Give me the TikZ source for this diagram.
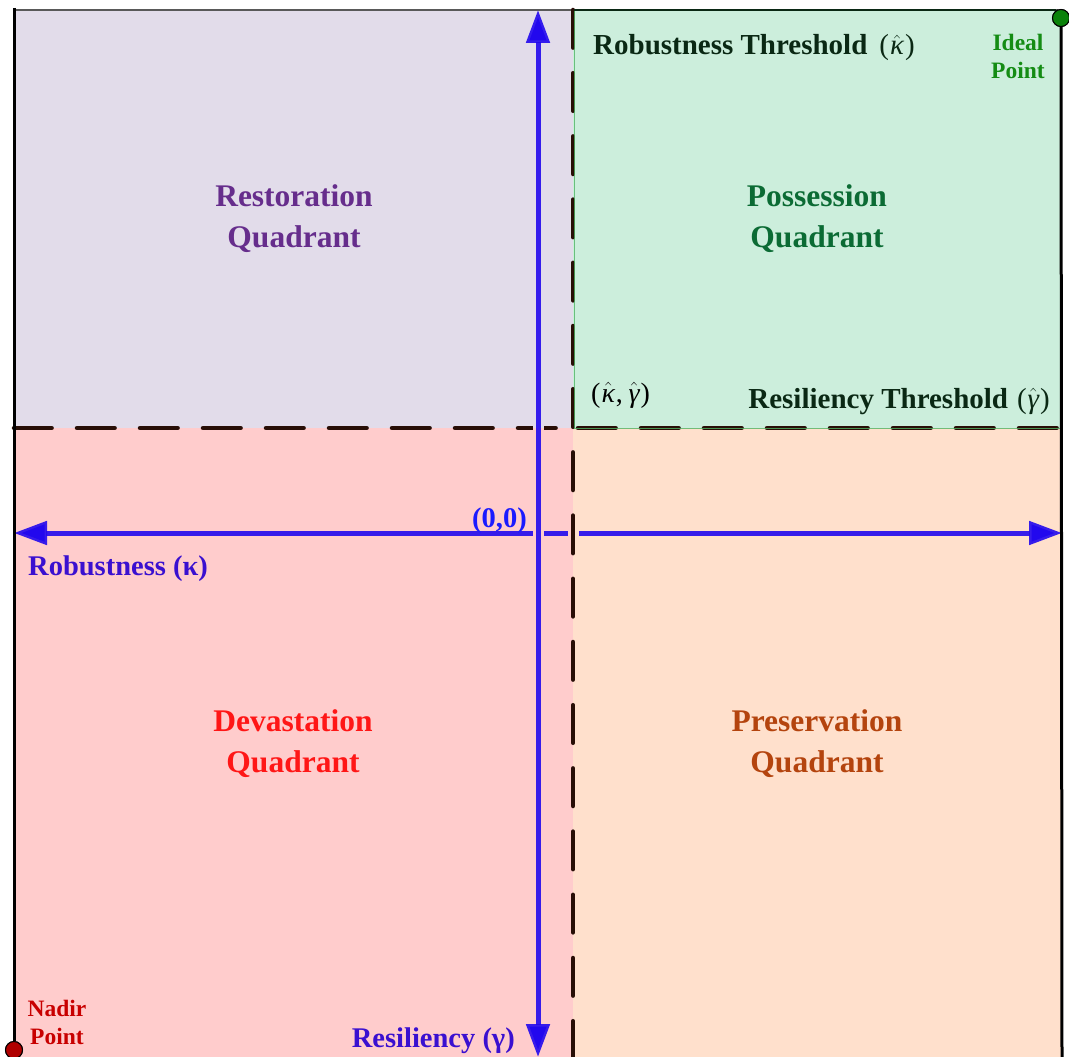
\documentclass[tikz,border=0pt]{standalone}
\usepackage{fontspec}
\setmainfont{Liberation Serif}
\usetikzlibrary{arrows.meta}

% quadrant fills
\definecolor{restfill}{RGB}{226,220,234}
\definecolor{possfill}{RGB}{204,238,220}
\definecolor{devfill}{RGB}{255,204,204}
\definecolor{presfill}{RGB}{255,224,204}
% quadrant titles
\definecolor{restcol}{RGB}{102,45,140}
\definecolor{posscol}{RGB}{11,107,52}
\definecolor{devcol}{RGB}{255,22,22}
\definecolor{prescol}{RGB}{180,68,14}
% lines and labels
\definecolor{threshcol}{RGB}{10,40,20}
\definecolor{dividercol}{RGB}{40,14,6}
\definecolor{axiscol}{RGB}{34,8,238}
\definecolor{axistext}{RGB}{58,16,208}
\definecolor{origincol}{RGB}{26,26,255}
\definecolor{idealcol}{RGB}{20,140,20}
\definecolor{idealdot}{RGB}{10,130,10}
\definecolor{nadircol}{RGB}{200,0,0}
\definecolor{nadirdot}{RGB}{176,0,0}
\definecolor{possedge}{RGB}{80,180,100}

\tikzset{
  quadlabel/.style={font=\fontsize{31.5}{41}\selectfont\bfseries, align=center, inner sep=0pt},
  thresh/.style={font=\fontsize{29}{34}\selectfont\bfseries, text=threshcol, inner sep=0pt},
  axlabel/.style={font=\fontsize{28.5}{32}\selectfont\bfseries, text=axistext, inner sep=0pt},
  ptlabel/.style={font=\fontsize{23.5}{28}\selectfont\bfseries, align=center, inner sep=0pt},
  divider/.style={line width=4.5pt, line cap=round, dash pattern=on 37.6pt off 25.4pt, draw=dividercol},
  axisline/.style={line width=5pt, draw=axiscol, draw opacity=0.9,
    {Triangle[length=33pt,width=23pt]}-{Triangle[length=33pt,width=23pt]}},
  border/.style={line width=3pt, draw=black},
  halo/.style={line width=11pt},
  endpoint/.style={circle, minimum size=17pt, inner sep=0pt, draw=black, line width=1pt},
}

% a hatted italic Greek letter in the text font
\newcommand{\hatsym}[1]{$\hat{\mbox{\itshape\kern1pt #1\kern1pt}}$}

\begin{document}
\begin{tikzpicture}[x=1pt,y=-1pt]
\useasboundingbox (0,0) rectangle (1069,1057);

% quadrant areas
\fill[restfill] (14,10) rectangle (573,428);
\fill[possfill] (573,10) rectangle (1062,428);
\fill[devfill]  (14,428) rectangle (573,1057);
\fill[presfill] (573,428) rectangle (1062,1057);

% frame
\draw[line width=2pt, draw=black!65] (14,10) -- (1058,10);
\coordinate (lt) at (14,8);
\coordinate (rb) at (1062,1057);

% threshold lines
\coordinate (hl) at (14,428);
\coordinate (hm) at (571,428);
\coordinate (hn) at (578,428);
\coordinate (hr) at (1062,428);
\draw[divider] (hl) -- (hm);
\draw[divider] (hn) -- (hr);

% robustness axis
\coordinate (xl) at (14,533);
\coordinate (xr) at (1062,533);
\draw[axisline] (xl) -- (xr);

% resiliency axis, with a gap cut around it
\coordinate (yt) at (538,10);
\coordinate (yb) at (538,1057);
\draw[halo, restfill] (538,14) -- (538,428);
\draw[halo, devfill] (538,428) -- (538,1040);
\draw[axisline] (yb) -- (yt);

% resiliency threshold (vertical), with a gap cut in the axis
\fill[devfill] (568,528) rectangle (573,538);
\fill[presfill] (573,528) rectangle (579,538);
\coordinate (vt) at (573,10);
\coordinate (vb) at (573,1057);
\draw[divider, dash pattern=on 37.6pt off 25.6pt] (vt) -- (vb);

% edge of the possession quadrant
\draw[possedge, line width=1pt, draw opacity=0.8] (574,10) -- (574,428) -- (1062,428);
\draw[line width=1.5pt, draw=threshcol] (574,10) -- (1056,10);

% side borders and extreme points
\node[endpoint, fill=idealdot] (ideal) at (1061,18) {};
\node[endpoint, fill=nadirdot] (nadir) at (14,1050) {};
\draw[border] (lt) -- (nadir.north);
\draw[border] (ideal.south) -- (rb);
\node[endpoint, fill=idealdot] at (ideal) {};
\node[endpoint, fill=nadirdot] at (nadir) {};

% quadrant titles
\node[quadlabel, text=restcol] (rest) at (294,219) {Restoration\\Quadrant};
\node[quadlabel, text=posscol] (poss) at (817,219) {Possession\\Quadrant};
\node[quadlabel, text=devcol]  (dev)  at (293,744) {Devastation\\Quadrant};
\node[quadlabel, text=prescol] (pres) at (817,744) {Preservation\\Quadrant};

% threshold labels
\node[thresh, anchor=base west] (robth) at (593,55)
  {Robustness Threshold\hspace{12pt}{\mdseries(\hatsym{κ})}};
\node[thresh, anchor=base east] (resth) at (1050,408)
  {Resiliency Threshold\hspace{9pt}{\mdseries(\hatsym{γ})}};
\node[thresh, anchor=base west, font=\fontsize{28}{32}\selectfont, text=black] (thpt) at (591,402)
  {(\hatsym{κ},\,\hatsym{γ})};

% axis labels
\node[axlabel, anchor=base west] (robax) at (28,575) {Robustness (κ)};
\node[axlabel, anchor=base east] (resax) at (515,1047) {Resiliency (γ)};
\node[axlabel, anchor=base east, text=origincol] (orig) at (527,527) {(0,0)};

% point labels
\node[ptlabel, text=idealcol] (ideallbl) at (1018,56) {Ideal\\Point};
\node[ptlabel, text=nadircol] (nadirlbl) at (57,1022) {Nadir\\Point};

\end{tikzpicture}
\end{document}
